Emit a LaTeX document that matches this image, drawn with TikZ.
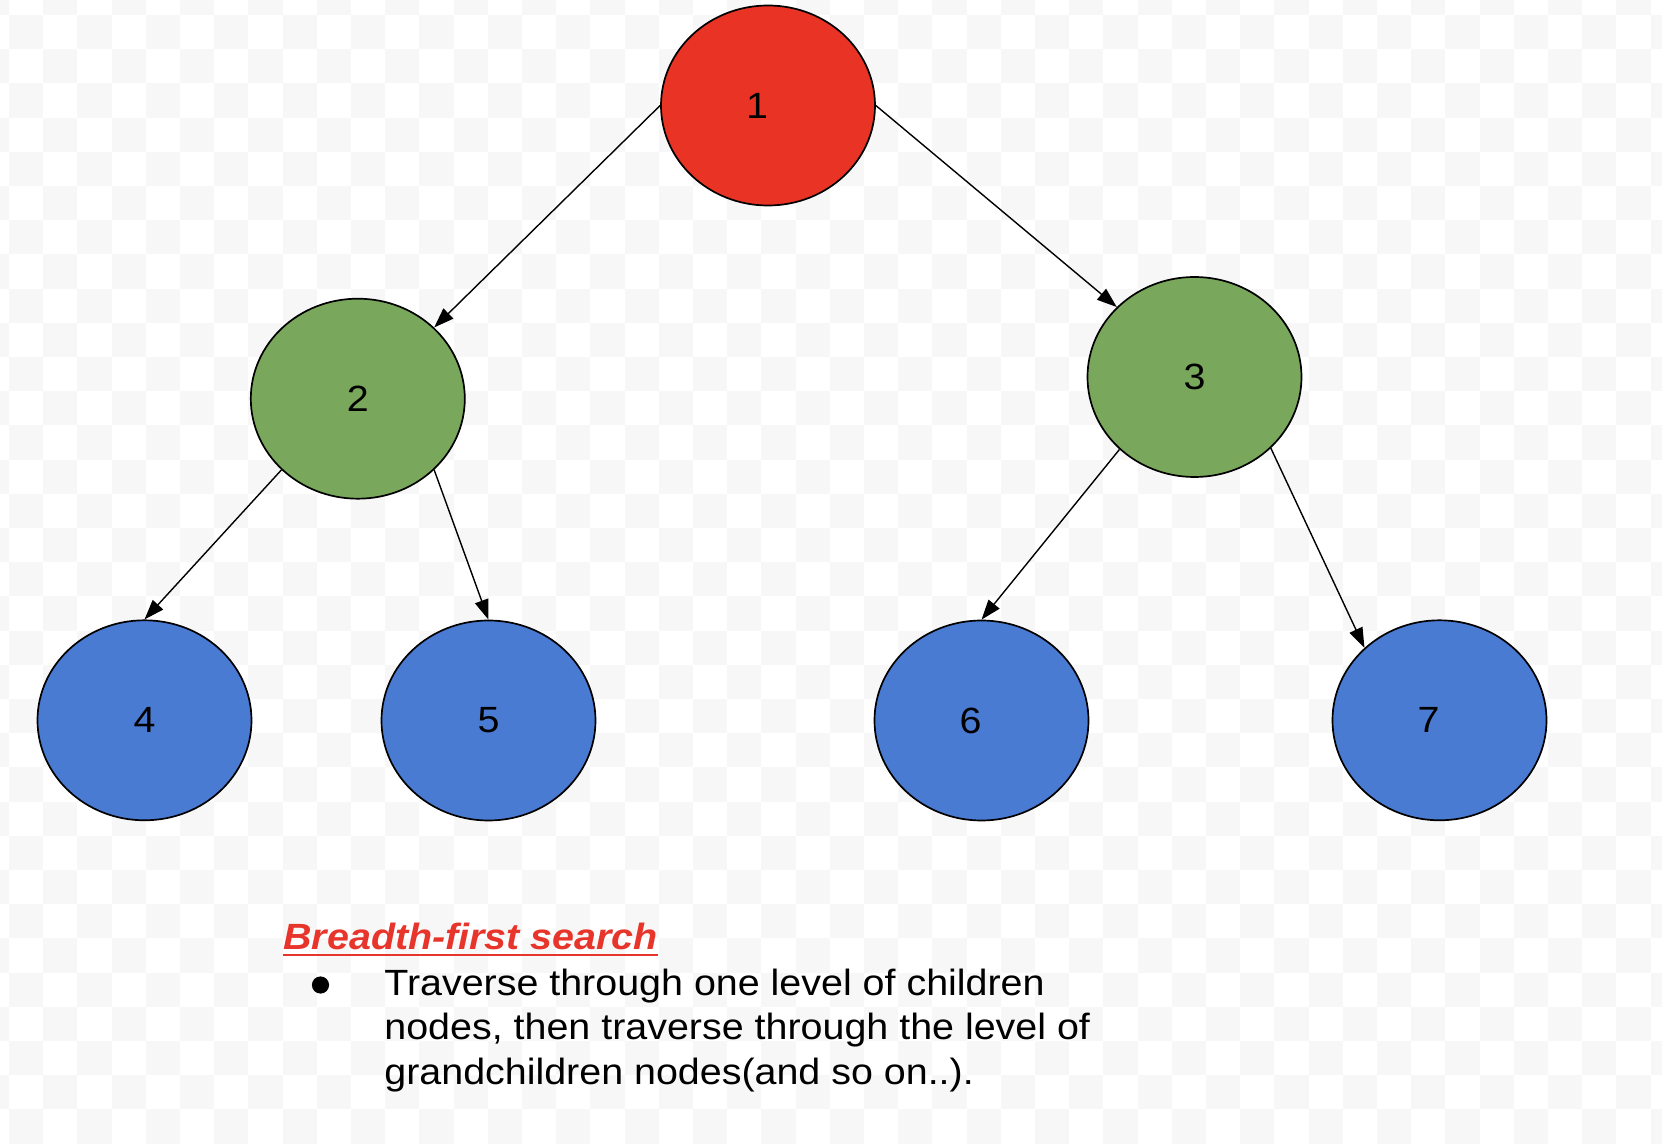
\documentclass[tikz,border=0pt]{standalone}
\usepackage{fontspec}
\setmainfont{Liberation Sans}[FakeStretch=1.08]
\usetikzlibrary{arrows.meta, shapes.geometric}

\definecolor{rootred}{HTML}{E83325}
\definecolor{leafblue}{HTML}{4A7BD3}
\definecolor{midgreen}{HTML}{79A75B}
\definecolor{titlered}{HTML}{E8352B}
\definecolor{checkgray}{HTML}{F7F7F7}

\begin{document}
\begin{tikzpicture}[x=0.5pt,y=-0.5pt]
  \tikzstyle{vertex}=[ellipse,draw,line width=0.85pt,minimum width=107pt,minimum height=100pt,inner sep=0pt,font=\fontsize{18.25pt}{22pt}\selectfont]
  \tikzstyle{edge}=[-{Triangle[length=10pt,width=7pt]},line width=0.7pt]

  \useasboundingbox (0,0) rectangle (1662,1144);
  \clip (0,0) rectangle (1662,1144);
  \fill[white] (0,0) rectangle (1662,1144); % Background
  \foreach \j in {0,...,34} {
    \pgfmathtruncatemacro\st{mod(\j,2)}
    \foreach \i in {0,2,...,50}
      \fill[checkgray] ({-25.2+34.2*(\i+\st)},{-19.2+34.2*\j}) rectangle +(34.2,34.2);
  } % Checker pattern

  \node[vertex,fill=rootred] (A) at (768,105.5) {1\hspace*{11pt}}; % Root
  \node[vertex,fill=midgreen] (B) at (357.8,398.7) {2};
  \node[vertex,fill=midgreen] (C) at (1194.5,377) {3};
  \node[vertex,fill=leafblue] (D) at (144.5,720.3) {4};
  \node[vertex,fill=leafblue] (E) at (488.5,720.5) {5};
  \node[vertex,fill=leafblue] (F) at (981.5,720.5) {6\hspace*{11pt}};
  \node[vertex,fill=leafblue] (G) at (1439.5,720.3) {7\hspace*{11pt}};

  \draw[edge] (A.west)--(B.43); % Root to left child
  \draw[edge] (A.east)--(C.138); % Root to right child
  \draw[edge] (B.223.5)--(D.north);
  \draw[edge] (B.-43.4)--(E.north);
  \draw[edge] (C.224)--(F.north);
  \draw[edge] (C.-43)--(G.136.4);

  \node[anchor=base west,inner sep=0pt,text=titlered,font=\fontsize{18.25pt}{22pt}\selectfont\bfseries\itshape] (T) at (283,950) {Breadth-first search};
  \draw[titlered,line width=1.2pt] ([yshift=-2.6pt]T.base west)--([yshift=-2.6pt]T.base east); % Underline
  \node[circle,fill=black,inner sep=0pt,minimum size=8.6pt] (P) at (320.5,985) {}; % Bullet
  \node[anchor=base west,inner sep=0pt,align=left,font=\fontsize{18.25pt}{22.1pt}\selectfont] (X) at (384,1084.1)
    {Traverse through one level of children\\nodes, then traverse through the level of\\grandchildren nodes(and so on..).};
\end{tikzpicture}
\end{document}
